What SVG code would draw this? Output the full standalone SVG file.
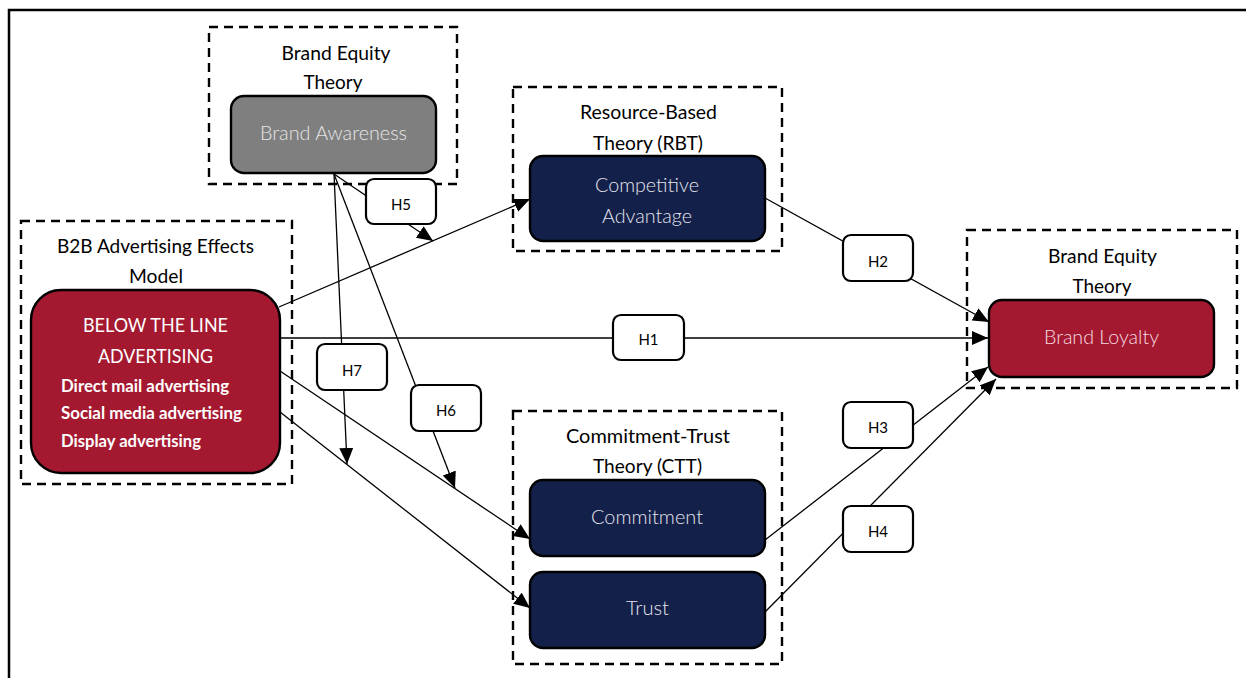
<svg xmlns="http://www.w3.org/2000/svg" width="1246" height="678" viewBox="0 0 1246 678">
  <style>
    .frame { fill: none; stroke: #000; stroke-width: 2.5; }
    .theory { fill: none; stroke: #000; stroke-width: 2.4; stroke-dasharray: 9 6; }
    .node { stroke: #000; stroke-width: 2.4; }
    .red { fill: #a51930; }
    .navy { fill: #13204a; }
    .grey { fill: #7f7f7f; }
    .hyp { fill: #fff; stroke: #000; stroke-width: 2.2; }
    .link { fill: none; stroke: #000; stroke-width: 1.3; marker-end: url(#arrow); }
    .head { font-family: Lato, "Liberation Sans", sans-serif; font-size: 19px; fill: #000; text-anchor: middle; }
    .inner { font-family: Lato, "Liberation Sans", sans-serif; font-size: 19px; font-weight: 300; text-anchor: middle; }
    .light { fill: #e4e4ec; }
    .pale { fill: #f3dde2; }
    .btl { font-family: Lato, "Liberation Sans", sans-serif; font-size: 19px; fill: #fff; text-anchor: middle; }
    .item { font-family: Lato, "Liberation Sans", sans-serif; font-size: 16.5px; font-weight: bold; fill: #fff; }
    .hlab { font-family: Lato, "Liberation Sans", sans-serif; font-size: 15px; fill: #000; text-anchor: middle; }
  </style>
  <defs>
    <marker id="arrow" markerUnits="userSpaceOnUse" markerWidth="17" markerHeight="15" refX="16" refY="7" orient="auto">
      <path d="M0,0 L16,7 L0,14 z" fill="#000"/>
    </marker>
  </defs>

  <rect width="1246" height="678" fill="#fff"/>
  <!-- outer frame, open to the right and bottom -->
  <rect class="frame" x="9" y="10" width="1260" height="700"/>

  <!-- theory frames -->
  <g id="theory-brand-equity-top">
    <rect class="theory" x="209" y="27" width="248" height="157"/>
    <text class="head" x="336" y="60" textLength="109" lengthAdjust="spacingAndGlyphs">Brand Equity</text>
    <text class="head" x="333" y="89" textLength="59" lengthAdjust="spacingAndGlyphs">Theory</text>
  </g>
  <g id="theory-b2b">
    <rect class="theory" x="21" y="221" width="271" height="263"/>
    <text class="head" x="155.5" y="253" textLength="197" lengthAdjust="spacingAndGlyphs">B2B Advertising Effects</text>
    <text class="head" x="156" y="283" textLength="54" lengthAdjust="spacingAndGlyphs">Model</text>
  </g>
  <g id="theory-rbt">
    <rect class="theory" x="513" y="87" width="269" height="164"/>
    <text class="head" x="648.5" y="119" textLength="137" lengthAdjust="spacingAndGlyphs">Resource-Based</text>
    <text class="head" x="648" y="150" textLength="110" lengthAdjust="spacingAndGlyphs">Theory (RBT)</text>
  </g>
  <g id="theory-ctt">
    <rect class="theory" x="513" y="411" width="269" height="253"/>
    <text class="head" x="648" y="443" textLength="164" lengthAdjust="spacingAndGlyphs">Commitment-Trust</text>
    <text class="head" x="647.5" y="473" textLength="109" lengthAdjust="spacingAndGlyphs">Theory (CTT)</text>
  </g>
  <g id="theory-brand-equity-right">
    <rect class="theory" x="967" y="230" width="270" height="158"/>
    <text class="head" x="1102.5" y="263" textLength="109" lengthAdjust="spacingAndGlyphs">Brand Equity</text>
    <text class="head" x="1102" y="293" textLength="59" lengthAdjust="spacingAndGlyphs">Theory</text>
  </g>

  <!-- connectors -->
  <g id="connectors">
    <line class="link" x1="279" y1="338" x2="988" y2="338"/>
    <line class="link" x1="279" y1="307" x2="530" y2="199"/>
    <line class="link" x1="765" y1="198" x2="989" y2="322"/>
    <line class="link" x1="765" y1="540" x2="988" y2="367"/>
    <line class="link" x1="765" y1="612" x2="996" y2="379"/>
    <line class="link" x1="280" y1="371" x2="530" y2="539"/>
    <line class="link" x1="280" y1="412" x2="530" y2="608"/>
    <line class="link" x1="334" y1="174" x2="433" y2="241"/>
    <line class="link" x1="334" y1="174" x2="455" y2="488"/>
    <line class="link" x1="334" y1="174" x2="347" y2="464"/>
  </g>

  <!-- constructs -->
  <g id="brand-awareness">
    <rect class="node grey" x="231" y="96" width="205" height="77" rx="13"/>
    <text class="inner" x="333.5" y="140" fill="#e6e6e6" textLength="147" lengthAdjust="spacingAndGlyphs">Brand Awareness</text>
  </g>
  <g id="below-the-line">
    <rect class="node red" x="31" y="290" width="249" height="183" rx="30"/>
    <text class="btl" x="155.5" y="332" textLength="145" lengthAdjust="spacingAndGlyphs">BELOW THE LINE</text>
    <text class="btl" x="155.5" y="363" textLength="115" lengthAdjust="spacingAndGlyphs">ADVERTISING</text>
    <text class="item" x="61" y="392" textLength="168" lengthAdjust="spacingAndGlyphs">Direct mail advertising</text>
    <text class="item" x="61" y="419" textLength="181" lengthAdjust="spacingAndGlyphs">Social media advertising</text>
    <text class="item" x="61" y="447" textLength="140" lengthAdjust="spacingAndGlyphs">Display advertising</text>
  </g>
  <g id="competitive-advantage">
    <rect class="node navy" x="530" y="156" width="235" height="85" rx="13"/>
    <text class="inner light" x="647" y="192" textLength="104" lengthAdjust="spacingAndGlyphs">Competitive</text>
    <text class="inner light" x="647" y="223" textLength="90" lengthAdjust="spacingAndGlyphs">Advantage</text>
  </g>
  <g id="commitment">
    <rect class="node navy" x="530" y="480" width="235" height="76" rx="13"/>
    <text class="inner light" x="647" y="524" textLength="112" lengthAdjust="spacingAndGlyphs">Commitment</text>
  </g>
  <g id="trust">
    <rect class="node navy" x="530" y="572" width="235" height="76" rx="13"/>
    <text class="inner light" x="647.5" y="615" textLength="43" lengthAdjust="spacingAndGlyphs">Trust</text>
  </g>
  <g id="brand-loyalty">
    <rect class="node red" x="989" y="300" width="225" height="77" rx="13"/>
    <text class="inner pale" x="1101.5" y="344" textLength="115" lengthAdjust="spacingAndGlyphs">Brand Loyalty</text>
  </g>

  <!-- hypothesis labels sitting on the paths -->
  <g id="h1"><rect class="hyp" x="613" y="315" width="71" height="45" rx="8"/><text class="hlab" x="648.5" y="345">H1</text></g>
  <g id="h2"><rect class="hyp" x="843" y="235" width="70" height="46" rx="8"/><text class="hlab" x="878" y="267">H2</text></g>
  <g id="h3"><rect class="hyp" x="843" y="402" width="70" height="46" rx="8"/><text class="hlab" x="878" y="433">H3</text></g>
  <g id="h4"><rect class="hyp" x="843" y="506" width="70" height="46" rx="8"/><text class="hlab" x="878" y="537">H4</text></g>
  <g id="h5"><rect class="hyp" x="366" y="179" width="70" height="45" rx="8"/><text class="hlab" x="401" y="210">H5</text></g>
  <g id="h6"><rect class="hyp" x="411" y="385" width="70" height="46" rx="8"/><text class="hlab" x="446" y="416">H6</text></g>
  <g id="h7"><rect class="hyp" x="317" y="344" width="70" height="46" rx="8"/><text class="hlab" x="352" y="376">H7</text></g>
</svg>
